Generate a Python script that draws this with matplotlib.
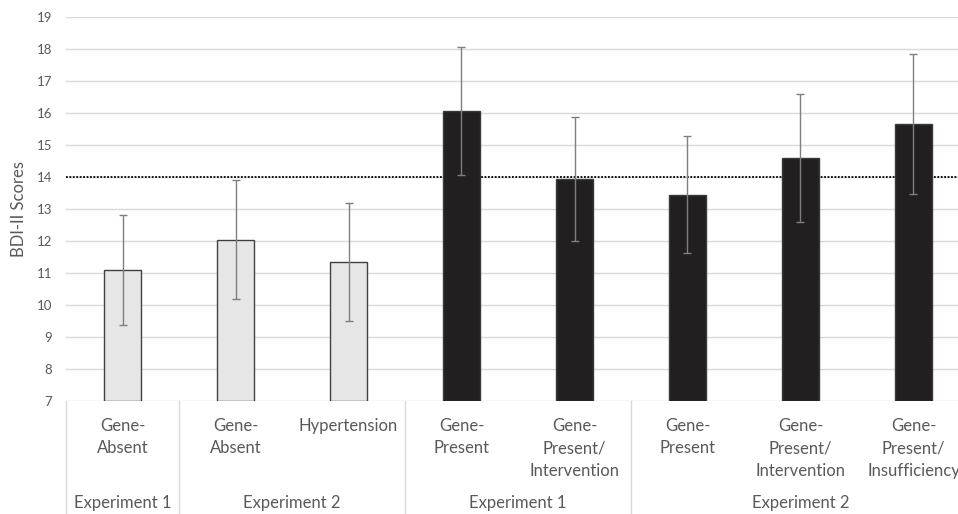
import matplotlib
matplotlib.use("Agg")
import matplotlib.pyplot as plt
import matplotlib.transforms as mtransforms

plt.rcParams['font.family'] = ['Lato', 'DejaVu Sans']

categories = ["Gene-\nAbsent", "Gene-\nAbsent", "Hypertension",
              "Gene-\nPresent", "Gene-\nPresent/\nIntervention",
              "Gene-\nPresent", "Gene-\nPresent/\nIntervention",
              "Gene-\nPresent/\nInsufficiency"]
means = [11.1, 12.05, 11.35, 16.07, 13.94, 13.45, 14.6, 15.65]
errors = [1.72, 1.85, 1.85, 2.0, 1.93, 1.83, 1.99, 2.19]
groups = ["gene_absent", "gene_absent", "gene_absent",
          "gene_present", "gene_present", "gene_present", "gene_present", "gene_present"]
group_labels = ["Experiment 1", "Experiment 2", "Experiment 1", "Experiment 2"]
group_spans = [(0, 0), (1, 2), (3, 4), (5, 7)]
threshold = 14
yticks = list(range(7, 20))

W, H = 958, 514
fig = plt.figure(figsize=(W / 100, H / 100), dpi=100)
left_px, right_px, top_px, bottom_px = 66, 970, 17.3, 401
ax = fig.add_axes([left_px / W, 1 - bottom_px / H, (right_px - left_px) / W,
                   (bottom_px - top_px) / H])

x = list(range(len(categories)))
fill = {"gene_absent": "#E7E6E6", "gene_present": "#231F20"}
edge = {"gene_absent": "#404040", "gene_present": "#3a3a3a"}

ax.set_ylim(7, 19)
ax.set_xlim(-0.5, len(categories) - 0.5)
ax.set_yticks(yticks)
ax.grid(axis='y', color='#D9D9D9', lw=1.0, zorder=0)
ax.set_axisbelow(True)

ax.axhline(threshold, color='black', lw=1.3, linestyle=(0, (1.0, 0.9)), zorder=1)

for xi, m, g in zip(x, means, groups):
    ax.bar(xi, m - 7, bottom=7, width=0.32, color=fill[g], edgecolor=edge[g],
           lw=1.0, zorder=2)
ax.errorbar(x, means, yerr=errors, fmt='none', ecolor='#7F7F7F', elinewidth=1.0,
            capsize=2.8, capthick=1.0, zorder=3)

for s in ax.spines.values():
    s.set_visible(False)
ax.tick_params(axis='both', length=0)
ax.tick_params(axis='y', labelsize=9.5, labelcolor='#595959', pad=10)
ax.set_xticks(x)
ax.set_xticklabels(categories, fontsize=12, color='#595959', linespacing=1.5,
                   va='top')
ax.tick_params(axis='x', pad=12)
ax.set_ylabel("BDI-II Scores", fontsize=12, color='#595959', labelpad=7)

trans = mtransforms.blended_transform_factory(ax.transData, ax.transAxes)
axh = bottom_px - top_px
y_bottom = -(H - bottom_px) / axh
for b in [-0.5, 0.5, 2.5, 4.5]:
    ax.plot([b, b], [0, y_bottom], transform=trans, color='#D9D9D9', lw=1.0,
            clip_on=False, zorder=1)

y_group = -(503 - bottom_px) / axh
for lab, (a, b) in zip(group_labels, group_spans):
    ax.text((a + b) / 2, y_group, lab, transform=trans, ha='center', va='center',
            fontsize=12, color='#595959')

fig.savefig("out.png", dpi=100)
